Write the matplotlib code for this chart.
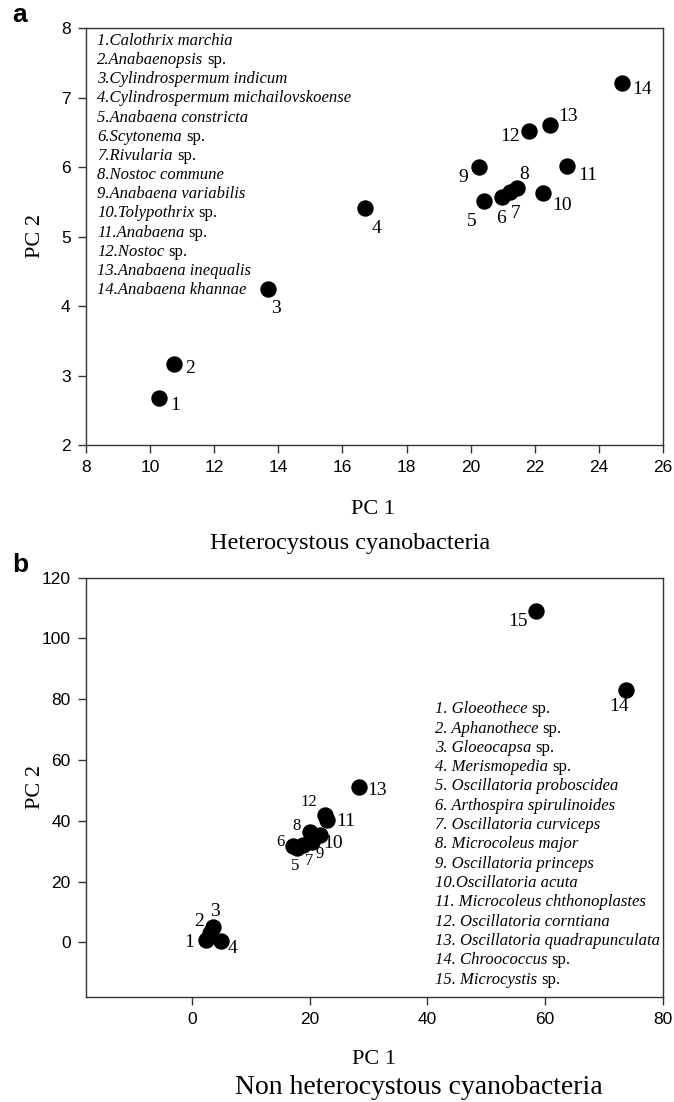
import numpy as np
import matplotlib
matplotlib.use("Agg")
import matplotlib.pyplot as plt
from matplotlib.transforms import offset_copy

plt.rcParams['font.family'] = ['Liberation Serif', 'DejaVu Serif']

# panel a: heterocystous cyanobacteria
a_ids = [str(i) for i in range(1, 15)]
a_pc1 = [10.28, 10.73, 13.68, 16.69, 20.41, 20.99, 21.22, 21.43, 20.25, 22.26, 22.99, 21.82, 22.47, 24.73]
a_pc2 = [2.68, 3.17, 4.24, 5.41, 5.51, 5.57, 5.64, 5.70, 6.00, 5.62, 6.02, 6.52, 6.60, 7.21]
a_names = [("Calothrix marchia", ""), ("Anabaenopsis", "sp."), ("Cylindrospermum indicum", ""),
           ("Cylindrospermum michailovskoense", ""), ("Anabaena constricta", ""),
           ("Scytonema", "sp."), ("Rivularia", "sp."), ("Nostoc commune", ""),
           ("Anabaena variabilis", ""), ("Tolypothrix", "sp."), ("Anabaena", "sp."),
           ("Nostoc", "sp."), ("Anabaena inequalis", ""), ("Anabaena khannae", "")]

# panel b: non heterocystous cyanobacteria
b_ids = [str(i) for i in range(1, 16)]
b_pc1 = [2.3, 3.1, 3.6, 4.9, 17.8, 17.2, 18.9, 20.0, 20.3, 21.7, 23.0, 22.6, 28.4, 73.8, 58.5]
b_pc2 = [0.8, 3.0, 4.9, 0.4, 30.9, 31.7, 32.0, 36.4, 33.1, 35.3, 40.3, 41.9, 51.2, 83.2, 109.0]
b_names = [("Gloeothece", "sp."), ("Aphanothece", "sp."), ("Gloeocapsa", "sp."),
           ("Merismopedia", "sp."), ("Oscillatoria proboscidea", ""),
           ("Arthospira spirulinoides", ""), ("Oscillatoria curviceps", ""),
           ("Microcoleus major", ""), ("Oscillatoria princeps", ""), ("Oscillatoria acuta", ""),
           ("Microcoleus chthonoplastes", ""), ("Oscillatoria corntiana", ""),
           ("Oscillatoria quadrapunculata", ""), ("Chroococcus", "sp."), ("Microcystis", "sp.")]

# label offsets in pixels (dx, dy)
a_off = [(16, -8), (17, -5), (8, -19), (12, -20), (-12, -20), (-1, -22), (6, -21),
         (8, 13), (-15, -10), (19, -12), (21, -10), (-19, -6), (18, 9), (20, -7)]
b_off = [(-16, -3), (-11, 12), (2, 16), (12, -7), (-2, -18), (-13, 4), (6, -16),
         (-13, 6), (8, -12), (13, -8), (18, -2), (-16, 13), (18, -4), (-7, -17), (-18, -10)]
b_small = {5, 6, 7, 8, 9, 12}

W, H = 674, 1102
fig = plt.figure(figsize=(W / 100, H / 100), dpi=100)
renderer = fig.canvas.get_renderer()


def setup(ax):
    for s in ax.spines.values():
        s.set_color('#333333')
        s.set_linewidth(1.0)
    ax.tick_params(direction='out', length=6, width=1, color='#333333',
                   labelsize=12.5, top=False, right=False, pad=5)
    for lab in ax.get_xticklabels() + ax.get_yticklabels():
        lab.set_fontfamily('Liberation Sans')


def legend_lines(ax, x, y0, step, ids, names, sep):
    for i, (nm, suf) in enumerate(names):
        y = y0 - i * step / ax.bbox.height
        s = ids[i] + "." + (sep if i != 9 else "") + nm
        t = ax.text(x, y, s, transform=ax.transAxes, ha='left', va='center',
                    fontsize=12, style='italic')
        if suf:
            w = t.get_window_extent(renderer).width
            tr = offset_copy(ax.transAxes, fig=fig, x=w + 4, y=0, units='dots')
            ax.text(x, y, suf, transform=tr, ha='left', va='center', fontsize=12)


# ---- panel a
axa = fig.add_axes([86 / W, 1 - 445 / H, 577 / W, 417 / H])
axa.plot(a_pc1, a_pc2, 'o', color='black', markersize=10.8, zorder=3)
axa.set_xlim(8, 26)
axa.set_ylim(2, 8)
axa.set_xticks(np.arange(8, 27, 2))
axa.set_yticks(np.arange(2, 9, 1))
setup(axa)
for i, t in enumerate(a_ids):
    axa.annotate(t, (a_pc1[i], a_pc2[i]), xytext=a_off[i], textcoords='offset pixels',
                 ha='center', va='center', fontsize=14)
legend_lines(axa, 11.3 / 577, (445 - 41) / 417, 19.15, a_ids, a_names, "")

# ---- panel b
axb = fig.add_axes([86 / W, 1 - 997 / H, 577 / W, 419.3 / H])
axb.plot(b_pc1, b_pc2, 'o', color='black', markersize=10.8, zorder=3)
axb.set_xlim(-18, 80)
axb.set_ylim(-18, 120)
axb.set_xticks(np.arange(0, 81, 20))
axb.set_yticks(np.arange(0, 121, 20))
setup(axb)
for i, t in enumerate(b_ids):
    fs = 12 if (i + 1) in b_small else 14
    axb.annotate(t, (b_pc1[i], b_pc2[i]), xytext=b_off[i], textcoords='offset pixels',
                 ha='center', va='center', fontsize=fs)
legend_lines(axb, (435 - 86) / 577, (997 - 709.3) / 419.3, 19.3, b_ids, b_names, " ")

# axis titles and captions
fig.text(373 / W, 1 - 510 / H, "PC 1", ha='center', va='center', fontsize=16)
fig.text(350 / W, 1 - 543 / H, "Heterocystous cyanobacteria", ha='center', va='center', fontsize=17.5)
fig.text(35 / W, 1 - 236 / H, "PC 2", ha='center', va='center', fontsize=16, rotation=90)
fig.text(374 / W, 1 - 1060 / H, "PC 1", ha='center', va='center', fontsize=16)
fig.text(419 / W, 1 - 1087 / H, "Non heterocystous cyanobacteria", ha='center', va='center', fontsize=20)
fig.text(35 / W, 1 - 787 / H, "PC 2", ha='center', va='center', fontsize=16, rotation=90)

fig.text(20 / W, 1 - 15 / H, "a", ha='center', va='center', fontsize=19,
         fontweight='bold', family='Liberation Sans')
fig.text(20 / W, 1 - 565 / H, "b", ha='center', va='center', fontsize=19,
         fontweight='bold', family='Liberation Sans')

fig.savefig("out.png", dpi=100)
